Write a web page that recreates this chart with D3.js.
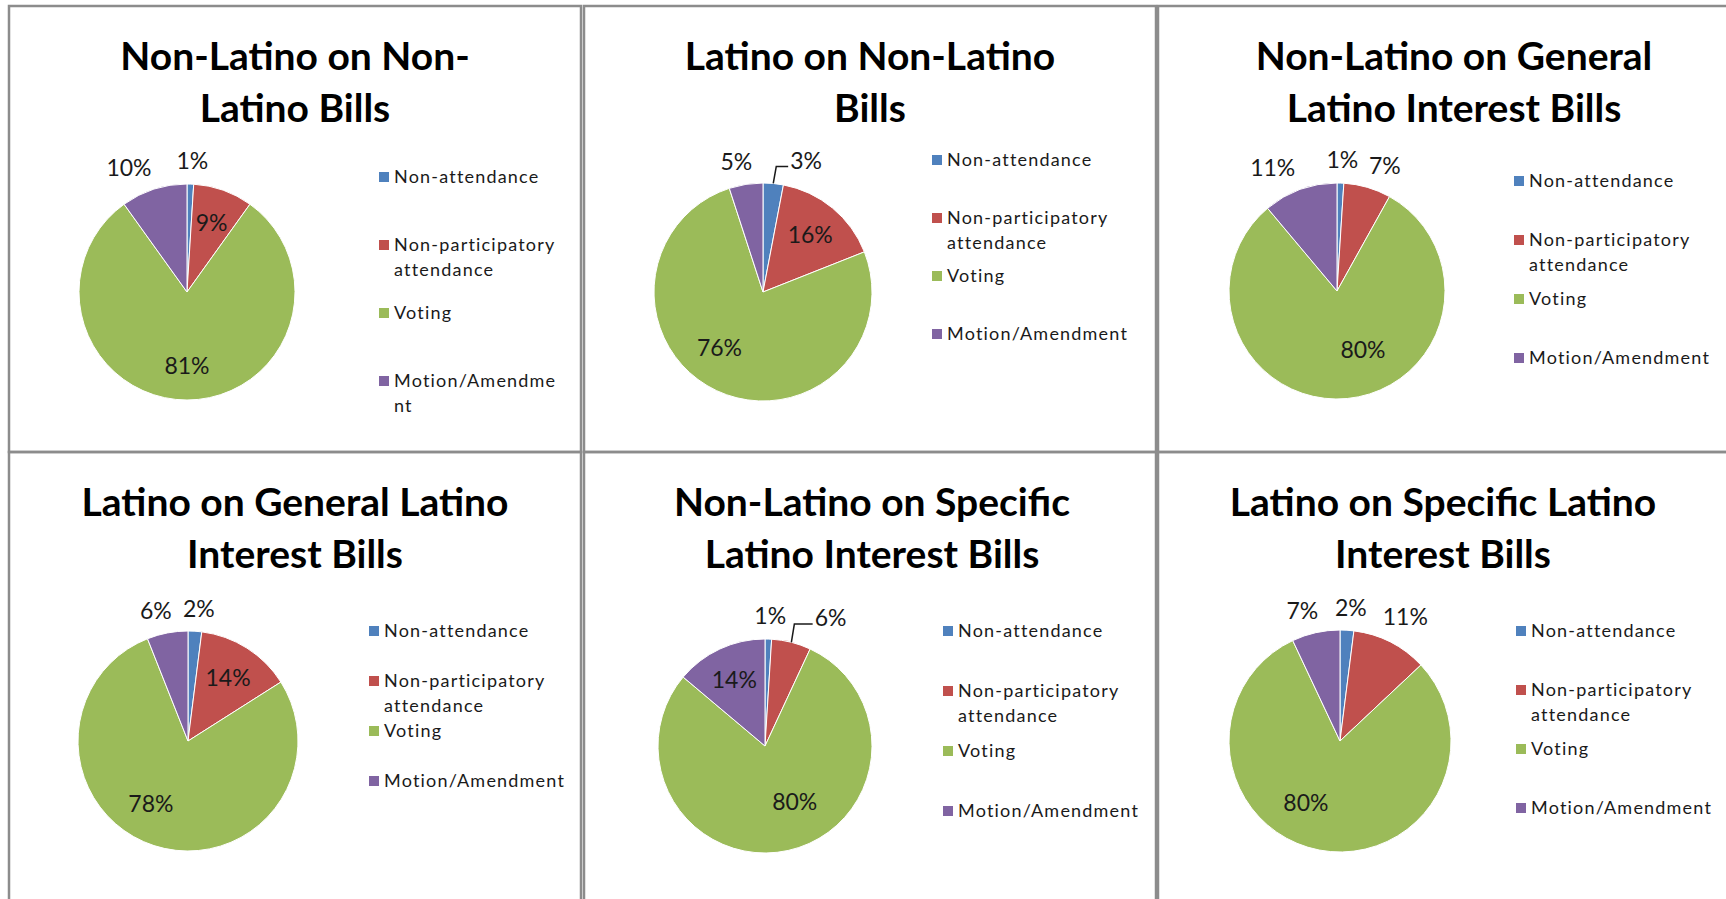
<!DOCTYPE html>
<html>
<head>
<meta charset="utf-8">
<script src="https://cdn.jsdelivr.net/npm/d3@7"></script>
<style>
  body { margin: 0; background: #fff; }
  svg { display: block; }
  text { font-family: Lato, "Open Sans", sans-serif; fill: #1a1a1a; }
</style>
</head>
<body>
<script>
// categories + colours (Excel 2007 default palette)
const categories = ['Non-attendance', 'Non-participatory attendance', 'Voting', 'Motion/Amendment'];
const colors = ['#4F81BD', '#C0504D', '#9BBB59', '#8064A2'];

const chartTitles = [
  'Non-Latino on Non-\nLatino Bills',
  'Latino on Non-Latino\nBills',
  'Non-Latino on General\nLatino Interest Bills',
  'Latino on General Latino\nInterest Bills',
  'Non-Latino on Specific\nLatino Interest Bills',
  'Latino on Specific Latino\nInterest Bills'
];

// percentages, one entry per chart
const nonAttendance = [1, 3, 1, 2, 1, 2];
const nonParticipatory = [9, 16, 7, 14, 6, 11];
const voting = [81, 76, 80, 78, 80, 80];
const motion = [10, 5, 11, 6, 14, 7];

// legend text as it wraps in each chart
const legendLines = [
  ['Non-attendance', 'Non-participatory\nattendance', 'Voting', 'Motion/Amendme\nnt'],
  ['Non-attendance', 'Non-participatory\nattendance', 'Voting', 'Motion/Amendment'],
  ['Non-attendance', 'Non-participatory\nattendance', 'Voting', 'Motion/Amendment'],
  ['Non-attendance', 'Non-participatory\nattendance', 'Voting', 'Motion/Amendment'],
  ['Non-attendance', 'Non-participatory\nattendance', 'Voting', 'Motion/Amendment'],
  ['Non-attendance', 'Non-participatory\nattendance', 'Voting', 'Motion/Amendment']
];

// layout of each chart box (relative to the box)
const colLeft = [9, 584, 1158];
const colRight = [581, 1156, 1740];
const rowTop = [6, 452];
const rowBottom = [452, 910];
const layout = [
  {cx: 178, cy: 286, r: 108, lx: 370, ly: 171, step: 68, tx: 286},
  {cx: 179, cy: 286, r: 109, lx: 348, ly: 154, step: 58, tx: 286},
  {cx: 179, cy: 285, r: 108, lx: 356, ly: 175, step: 59, tx: 296},
  {cx: 179, cy: 289, r: 110, lx: 360, ly: 179, step: 50, tx: 286},
  {cx: 181, cy: 294, r: 107, lx: 359, ly: 179, step: 60, tx: 288},
  {cx: 182, cy: 289, r: 111, lx: 358, ly: 179, step: 59, tx: 285}
];
// best-fit placement of data labels: true = inside the slice
const labelInside = [
  [false, true, true, false],
  [false, true, true, false],
  [false, false, true, false],
  [false, true, true, false],
  [false, false, true, true],
  [false, false, true, false]
];
// small nudges Excel applied to some labels, [dx, dy, leader]
const labelNudge = [
  [null, null, null, null],
  [[27, 0, true], null, [-12, -11], null],
  [null, null, [19, -14], null],
  [null, null, [-14, -8], null],
  [null, [24, -2, true], [14, -15], null],
  [null, [-14, -5], [-20, -12], null]
];

const titleSize = 39, legendSize = 18, labelSize = 23;

const svg = d3.select('body').append('svg')
  .attr('width', 1726)
  .attr('height', 899);

const pie = d3.pie().sort(null).value(d => d);

chartTitles.forEach(function(title, i) {
  var col = i % 3, row = Math.floor(i / 3);
  var L = layout[i];
  var values = [nonAttendance[i], nonParticipatory[i], voting[i], motion[i]];

  var g = svg.append('g')
    .attr('transform', 'translate(' + colLeft[col] + ',' + rowTop[row] + ')');

  //box
  g.append('rect')
    .attr('x', 0).attr('y', 0)
    .attr('width', colRight[col] - colLeft[col])
    .attr('height', rowBottom[row] - rowTop[row])
    .attr('fill', 'none')
    .attr('stroke', '#8c8c8c')
    .attr('stroke-width', 2.5);

  //title
  title.split('\n').forEach(function(line, j) {
    g.append('text')
      .attr('x', L.tx)
      .attr('y', 50 + j * 52 + titleSize * 0.36)
      .attr('text-anchor', 'middle')
      .attr('font-size', titleSize)
      .attr('font-weight', 'bold')
      .style('fill', '#000')
      .text(line);
  });

  //pie
  var arc = d3.arc().innerRadius(0).outerRadius(L.r);
  var pg = g.append('g').attr('transform', 'translate(' + L.cx + ',' + L.cy + ')');
  var arcs = pie(values);

  pg.selectAll('path')
    .data(arcs)
    .enter()
    .append('path')
    .attr('d', arc)
    .attr('fill', (d, k) => colors[k])
    .attr('stroke', '#fff')
    .attr('stroke-width', 1);

  //data labels
  arcs.forEach(function(d, k) {
    var mid = (d.startAngle + d.endAngle) / 2;
    var s = Math.sin(mid), c = Math.cos(mid);
    var t = pg.append('text')
      .attr('text-anchor', 'middle')
      .attr('font-size', labelSize)
      .text(values[k] + '%');
    var box = t.node().getBBox();
    var x, y;
    if (labelInside[i][k]) {
      x = s * L.r * 0.68;
      y = -c * L.r * 0.68;
    } else {
      var px = s * (L.r + 14), py = -c * (L.r + 14);
      x = px + (box.width / 2) * Math.max(-1, Math.min(1, 3 * s));
      y = py - c * (box.height / 2 - 5);
    }
    var nudge = labelNudge[i][k];
    if (nudge) {
      x += nudge[0];
      y += nudge[1];
    }
    t.attr('x', x).attr('y', y + labelSize * 0.36);

    if (nudge && nudge[2]) {
      var ex = s * L.r, ey = -c * L.r;
      pg.append('path')
        .attr('d', 'M' + ex + ',' + ey + 'L' + (ex + 3) + ',' + (y + 6) + 'L' + (x - box.width / 2 - 2) + ',' + (y + 6))
        .attr('fill', 'none')
        .attr('stroke', '#1a1a1a')
        .attr('stroke-width', 1.5);
    }
  });

  //legend
  legendLines[i].forEach(function(label, k) {
    var y = L.ly + k * L.step;
    g.append('rect')
      .attr('x', L.lx).attr('y', y - 5)
      .attr('width', 10).attr('height', 10)
      .attr('fill', colors[k]);
    label.split('\n').forEach(function(line, j) {
      g.append('text')
        .attr('x', L.lx + 15)
        .attr('y', y + j * 25 + legendSize * 0.36)
        .attr('font-size', legendSize)
        .attr('letter-spacing', 1.2)
        .text(line);
    });
  });
});
</script>
</body>
</html>
